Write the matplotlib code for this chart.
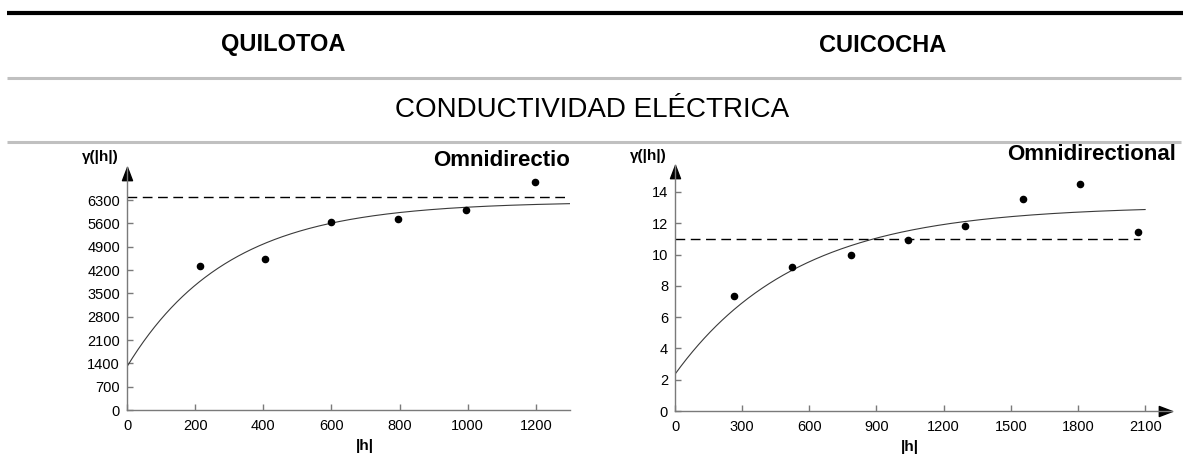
import numpy as np
import matplotlib
matplotlib.use("Agg")
import matplotlib.pyplot as plt
from matplotlib.lines import Line2D
from matplotlib.path import Path

plt.rcParams['font.family'] = ['Liberation Sans', 'DejaVu Sans']

# ---------------- data ----------------
panel_titles = ["QUILOTOA", "CUICOCHA"]
main_title = "CONDUCTIVIDAD ELÉCTRICA"
direction_label = "Omnidirectional"

# Quilotoa experimental semivariogram
q_lags = [214, 405, 600, 795, 995, 1198]
q_gamma = [4320, 4530, 5650, 5730, 6000, 6850]
# exponential model parameters (nugget, partial sill, decay)
q_nugget = 1300
q_psill = 4950
q_decay = 0.0034
q_sill_line = 6380
q_xticks = [0, 200, 400, 600, 800, 1000, 1200]
q_yticks = [0, 700, 1400, 2100, 2800, 3500, 4200, 4900, 5600, 6300]

# Cuicocha experimental semivariogram
c_lags = [263, 521, 788, 1042, 1297, 1555, 1810, 2066]
c_gamma = [7.36, 9.20, 9.97, 10.90, 11.80, 13.57, 14.51, 11.44]
c_nugget = 2.35
c_psill = 10.75
c_decay = 0.00184
c_sill_line = 11.0
c_xticks = [0, 300, 600, 900, 1200, 1500, 1800, 2100]
c_yticks = [0, 2, 4, 6, 8, 10, 12, 14]

# ---------------- figure ----------------
W, H = 1183, 469
fig = plt.figure(figsize=(W / 100, H / 100), dpi=100)


def fx(px):
    return px / W


def fy(py):
    return 1 - py / H


def hline(y, x0, x1, lw, color):
    fig.add_artist(Line2D([fx(x0), fx(x1)], [fy(y), fy(y)], transform=fig.transFigure,
                          lw=lw, color=color, solid_capstyle='butt'))


hline(13.5, 7, 1183, 3.0, 'black')
hline(78, 7, 1181, 2.2, '#c0c0c0')
hline(142, 7, 1181, 2.2, '#c0c0c0')

fig.text(fx(283), fy(45), panel_titles[0], ha='center', va='center',
         fontsize=17, fontweight='bold')
fig.text(fx(883), fy(45), panel_titles[1], ha='center', va='center',
         fontsize=17, fontweight='bold')
fig.text(fx(592), fy(110), main_title, ha='center', va='center', fontsize=20)

up_arrow = Path([(0, 0), (-0.38, -1), (0.38, -1), (0, 0)],
                [Path.MOVETO, Path.LINETO, Path.LINETO, Path.CLOSEPOLY])
right_arrow = Path([(0, 0), (-1, 0.38), (-1, -0.38), (0, 0)],
                   [Path.MOVETO, Path.LINETO, Path.LINETO, Path.CLOSEPOLY])


def make_axes(x0, x1, y0, y1):
    return fig.add_axes([fx(x0), fy(y0), fx(x1) - fx(x0), fy(y1) - fy(y0)])


def style(ax, xticks, yticks, xmax, ymax, xarrow):
    ax.set_xlim(0, xmax)
    ax.set_ylim(0, ymax)
    ax.spines['top'].set_visible(False)
    ax.spines['right'].set_visible(False)
    for s in ('left', 'bottom'):
        ax.spines[s].set_color('#7a7a7a')
        ax.spines[s].set_linewidth(1.0)
    ax.set_xticks(xticks)
    ax.set_yticks(yticks)
    ax.tick_params(direction='in', length=4, width=1, color='#7a7a7a',
                   labelsize=10.5, labelcolor='black')
    ax.tick_params(axis='x', pad=6.5)
    ax.tick_params(axis='y', pad=5)
    ax.plot([0], [ymax], marker=up_arrow, markersize=19, color='black',
            clip_on=False)
    if xarrow:
        ax.plot([xmax], [0], marker=right_arrow, markersize=19, color='black',
                clip_on=False)
    ax.set_xlabel('|h|', fontsize=11, fontweight='bold')


# ---- Quilotoa ----
axq = make_axes(127, 570, 410, 167)
q_xmax = 1300
q_ymax = 7290
hq = np.linspace(0, q_xmax, 400)
axq.plot(hq, q_nugget + q_psill * (1 - np.exp(-q_decay * hq)), color='#3a3a3a', lw=0.8)
axq.plot([0, q_xmax], [q_sill_line, q_sill_line], color='black', lw=1.0,
         dashes=(7, 4))
axq.scatter(q_lags, q_gamma, s=20, color='black', zorder=3)
style(axq, q_xticks, q_yticks, q_xmax, q_ymax, False)
axq.xaxis.set_label_coords((365 - 127) / 443, (410 - 439) / 243)
fig.text(fx(100), fy(157), 'γ(|h|)', ha='center', va='center', fontsize=11,
         fontweight='bold')
fig.text(fx(570), fy(160), 'Omnidirectio', ha='right', va='center', fontsize=16,
         fontweight='bold')

# ---- Cuicocha ----
axc = make_axes(675, 1172, 411, 165)
c_xmax = 2220
c_ymax = 15.72
hc = np.linspace(0, 2100, 400)
axc.plot(hc, c_nugget + c_psill * (1 - np.exp(-c_decay * hc)), color='#3a3a3a', lw=0.8)
axc.plot([0, 2075], [c_sill_line, c_sill_line], color='black', lw=1.0,
         dashes=(7, 4))
axc.scatter(c_lags, c_gamma, s=20, color='black', zorder=3)
style(axc, c_xticks, c_yticks, c_xmax, c_ymax, True)
axc.xaxis.set_label_coords((910 - 675) / 497, (411 - 440) / 246)
fig.text(fx(648), fy(156), 'γ(|h|)', ha='center', va='center', fontsize=11,
         fontweight='bold')
fig.text(fx(1176), fy(155), direction_label, ha='right', va='center', fontsize=16,
         fontweight='bold')

fig.savefig('out.png', dpi=100)
